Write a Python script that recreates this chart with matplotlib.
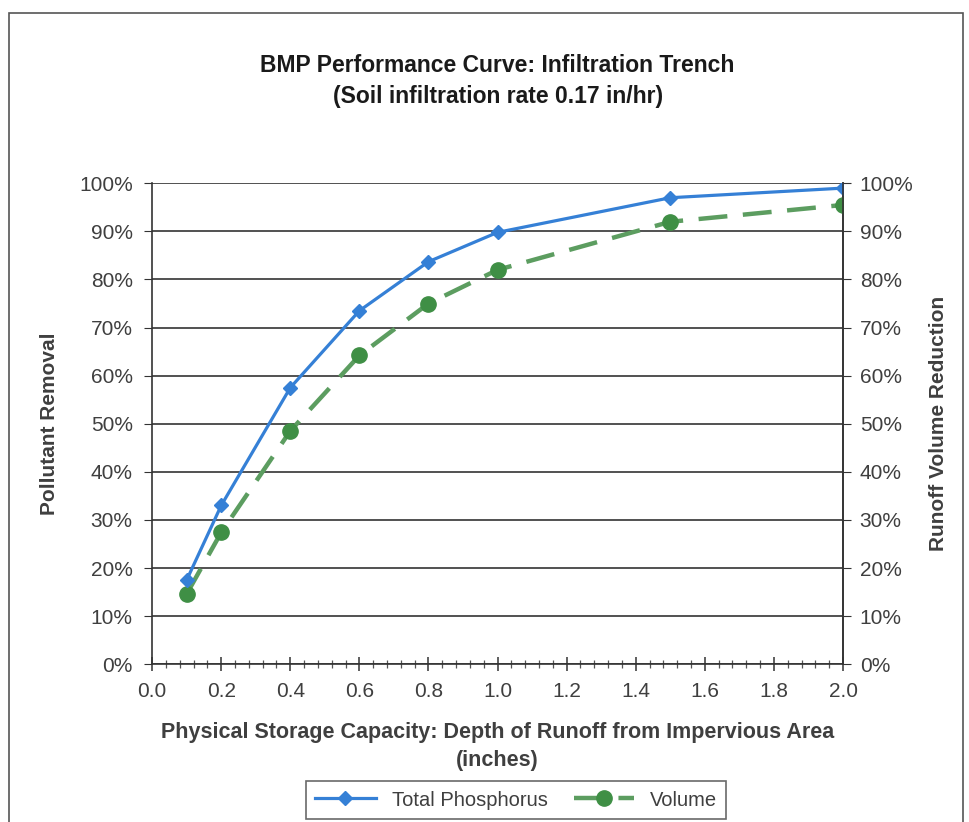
import matplotlib
matplotlib.use("Agg")
import matplotlib.pyplot as plt
from matplotlib.ticker import MultipleLocator, PercentFormatter
from matplotlib.patches import Rectangle

plt.rcParams['font.family'] = ['Liberation Sans', 'DejaVu Sans']

# data
depth = [0.1, 0.2, 0.4, 0.6, 0.8, 1.0, 1.5, 2.0]
phosphorus = [17.5, 33.0, 57.5, 73.5, 83.7, 89.8, 97.0, 99.0]
volume = [14.6, 27.4, 48.5, 64.2, 75.0, 82.0, 92.0, 95.5]

title = "BMP Performance Curve: Infiltration Trench\n(Soil infiltration rate 0.17 in/hr)"
xlabel = "Physical Storage Capacity: Depth of Runoff from Impervious Area\n(inches)"
ylabel_left = "Pollutant Removal"
ylabel_right = "Runoff Volume Reduction"

gray = "#3f3f3f"
blue = "#3580d6"
green_mk = "#3f8f45"
green_ln = "#5c9d60"

fig = plt.figure(figsize=(9.69, 8.22), dpi=100)
ax = fig.add_axes([0.157, 0.192, 0.713, 0.585])

# outer chart frame
fig.patches.append(Rectangle((0.009, -0.01), 0.985, 0.994, transform=fig.transFigure,
                             fill=False, edgecolor="#555555", linewidth=1.2))

ax.plot(depth, phosphorus, color=blue, lw=2.3, marker="D", ms=7.5,
        mfc=blue, mec=blue, label="Total Phosphorus", zorder=4)
ax.plot(depth, volume, color=green_ln, lw=3.2, ls=(0, (6.5, 3.5)), marker="o", ms=11,
        mfc=green_mk, mec=green_mk, label="Volume", zorder=3)

ax.set_xlim(0, 2.0)
ax.set_ylim(0, 100)
ax.xaxis.set_major_locator(MultipleLocator(0.2))
ax.xaxis.set_minor_locator(MultipleLocator(0.04))
ax.yaxis.set_major_locator(MultipleLocator(10))
ax.yaxis.set_major_formatter(PercentFormatter(decimals=0))
ax.xaxis.set_major_formatter(plt.FuncFormatter(lambda v, p: "%.1f" % v))

ax.grid(axis="y", color="#222222", lw=1.1)
ax.set_axisbelow(True)
ax.spines["top"].set_visible(False)
for s in ["left", "bottom", "right"]:
    ax.spines[s].set_color("#333333")
    ax.spines[s].set_linewidth(1.2)

ax.tick_params(axis="x", which="major", direction="inout", length=10, width=1.1,
               labelsize=15, labelcolor=gray, color="#333333", pad=8)
ax.tick_params(axis="x", which="minor", direction="inout", length=6, width=0.9, color="#555555")
ax.tick_params(axis="y", direction="out", length=6, labelsize=15, labelcolor=gray,
               color="#333333", pad=8)

ax2 = ax.twinx()
ax2.set_ylim(0, 100)
ax2.yaxis.set_major_locator(MultipleLocator(10))
ax2.yaxis.set_major_formatter(PercentFormatter(decimals=0))
ax2.tick_params(axis="y", direction="out", length=6, labelsize=15, labelcolor=gray,
                color="#333333", pad=6)
for s in ["top", "left", "bottom"]:
    ax2.spines[s].set_visible(False)
ax2.spines["right"].set_color("#333333")
ax2.spines["right"].set_linewidth(1.2)

ax.set_title(title, fontsize=16.5, fontweight="bold", color="#1a1a1a", pad=58,
             linespacing=1.45)
ax.set_xlabel(xlabel, fontsize=15.5, fontweight="bold", color=gray, labelpad=15,
              linespacing=1.45)
ax.set_ylabel(ylabel_left, fontsize=15, fontweight="bold", color=gray, labelpad=14)
ax2.set_ylabel(ylabel_right, fontsize=15, fontweight="bold", color=gray, labelpad=11)

leg = ax.legend(loc="upper center", bbox_to_anchor=(0.527, -0.223), ncol=2,
                fontsize=14.5, frameon=True, fancybox=False, edgecolor="#444444",
                handlelength=3, columnspacing=1.3, borderpad=0.45)
leg.get_frame().set_linewidth(1.2)
for t in leg.get_texts():
    t.set_color(gray)

fig.savefig("out.png", dpi=100)
